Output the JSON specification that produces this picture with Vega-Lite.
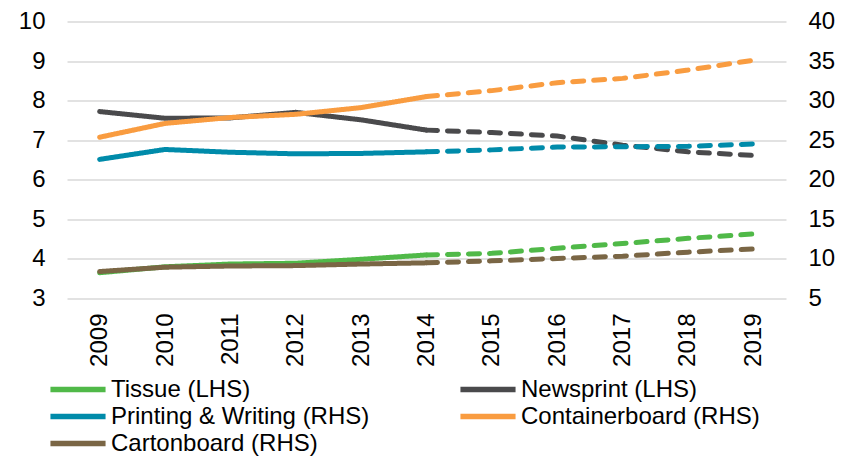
{
  "$schema": "https://vega.github.io/schema/vega-lite/v6.json",
  "width": 719,
  "height": 276.5,
  "autosize": {"type": "none"},
  "padding": {"left": 67, "top": 21.5, "right": 68, "bottom": 160},
  "config": {
    "view": {"stroke": null},
    "font": "Liberation Sans",
    "axis": {"labelFont": "Liberation Sans", "labelColor": "#000000"}
  },
  "data": {
    "values": [
      {"year": "2009", "series": "Tissue (LHS)", "side": "LHS", "phase": "actual", "value": 3.64},
      {"year": "2010", "series": "Tissue (LHS)", "side": "LHS", "phase": "actual", "value": 3.79},
      {"year": "2011", "series": "Tissue (LHS)", "side": "LHS", "phase": "actual", "value": 3.86},
      {"year": "2012", "series": "Tissue (LHS)", "side": "LHS", "phase": "actual", "value": 3.88},
      {"year": "2013", "series": "Tissue (LHS)", "side": "LHS", "phase": "actual", "value": 3.98},
      {"year": "2014", "series": "Tissue (LHS)", "side": "LHS", "phase": "actual", "value": 4.09},
      {"year": "2014", "series": "Tissue (LHS)", "side": "LHS", "phase": "forecast", "value": 4.09},
      {"year": "2015", "series": "Tissue (LHS)", "side": "LHS", "phase": "forecast", "value": 4.13},
      {"year": "2016", "series": "Tissue (LHS)", "side": "LHS", "phase": "forecast", "value": 4.26},
      {"year": "2017", "series": "Tissue (LHS)", "side": "LHS", "phase": "forecast", "value": 4.38},
      {"year": "2018", "series": "Tissue (LHS)", "side": "LHS", "phase": "forecast", "value": 4.51},
      {"year": "2019", "series": "Tissue (LHS)", "side": "LHS", "phase": "forecast", "value": 4.62},

      {"year": "2009", "series": "Newsprint (LHS)", "side": "LHS", "phase": "actual", "value": 7.72},
      {"year": "2010", "series": "Newsprint (LHS)", "side": "LHS", "phase": "actual", "value": 7.55},
      {"year": "2011", "series": "Newsprint (LHS)", "side": "LHS", "phase": "actual", "value": 7.56},
      {"year": "2012", "series": "Newsprint (LHS)", "side": "LHS", "phase": "actual", "value": 7.70},
      {"year": "2013", "series": "Newsprint (LHS)", "side": "LHS", "phase": "actual", "value": 7.51},
      {"year": "2014", "series": "Newsprint (LHS)", "side": "LHS", "phase": "actual", "value": 7.25},
      {"year": "2014", "series": "Newsprint (LHS)", "side": "LHS", "phase": "forecast", "value": 7.25},
      {"year": "2015", "series": "Newsprint (LHS)", "side": "LHS", "phase": "forecast", "value": 7.19},
      {"year": "2016", "series": "Newsprint (LHS)", "side": "LHS", "phase": "forecast", "value": 7.10},
      {"year": "2017", "series": "Newsprint (LHS)", "side": "LHS", "phase": "forecast", "value": 6.87},
      {"year": "2018", "series": "Newsprint (LHS)", "side": "LHS", "phase": "forecast", "value": 6.70},
      {"year": "2019", "series": "Newsprint (LHS)", "side": "LHS", "phase": "forecast", "value": 6.61},

      {"year": "2009", "series": "Printing & Writing (RHS)", "side": "RHS", "phase": "actual", "value": 22.55},
      {"year": "2010", "series": "Printing & Writing (RHS)", "side": "RHS", "phase": "actual", "value": 23.8},
      {"year": "2011", "series": "Printing & Writing (RHS)", "side": "RHS", "phase": "actual", "value": 23.45},
      {"year": "2012", "series": "Printing & Writing (RHS)", "side": "RHS", "phase": "actual", "value": 23.25},
      {"year": "2013", "series": "Printing & Writing (RHS)", "side": "RHS", "phase": "actual", "value": 23.3},
      {"year": "2014", "series": "Printing & Writing (RHS)", "side": "RHS", "phase": "actual", "value": 23.5},
      {"year": "2014", "series": "Printing & Writing (RHS)", "side": "RHS", "phase": "forecast", "value": 23.5},
      {"year": "2015", "series": "Printing & Writing (RHS)", "side": "RHS", "phase": "forecast", "value": 23.75},
      {"year": "2016", "series": "Printing & Writing (RHS)", "side": "RHS", "phase": "forecast", "value": 24.1},
      {"year": "2017", "series": "Printing & Writing (RHS)", "side": "RHS", "phase": "forecast", "value": 24.15},
      {"year": "2018", "series": "Printing & Writing (RHS)", "side": "RHS", "phase": "forecast", "value": 24.2},
      {"year": "2019", "series": "Printing & Writing (RHS)", "side": "RHS", "phase": "forecast", "value": 24.5},

      {"year": "2009", "series": "Containerboard (RHS)", "side": "RHS", "phase": "actual", "value": 25.35},
      {"year": "2010", "series": "Containerboard (RHS)", "side": "RHS", "phase": "actual", "value": 27.1},
      {"year": "2011", "series": "Containerboard (RHS)", "side": "RHS", "phase": "actual", "value": 27.85},
      {"year": "2012", "series": "Containerboard (RHS)", "side": "RHS", "phase": "actual", "value": 28.25},
      {"year": "2013", "series": "Containerboard (RHS)", "side": "RHS", "phase": "actual", "value": 29.1},
      {"year": "2014", "series": "Containerboard (RHS)", "side": "RHS", "phase": "actual", "value": 30.5},
      {"year": "2014", "series": "Containerboard (RHS)", "side": "RHS", "phase": "forecast", "value": 30.5},
      {"year": "2015", "series": "Containerboard (RHS)", "side": "RHS", "phase": "forecast", "value": 31.25},
      {"year": "2016", "series": "Containerboard (RHS)", "side": "RHS", "phase": "forecast", "value": 32.25},
      {"year": "2017", "series": "Containerboard (RHS)", "side": "RHS", "phase": "forecast", "value": 32.8},
      {"year": "2018", "series": "Containerboard (RHS)", "side": "RHS", "phase": "forecast", "value": 33.85},
      {"year": "2019", "series": "Containerboard (RHS)", "side": "RHS", "phase": "forecast", "value": 35.1},

      {"year": "2009", "series": "Cartonboard (RHS)", "side": "RHS", "phase": "actual", "value": 8.35},
      {"year": "2010", "series": "Cartonboard (RHS)", "side": "RHS", "phase": "actual", "value": 8.9},
      {"year": "2011", "series": "Cartonboard (RHS)", "side": "RHS", "phase": "actual", "value": 9.05},
      {"year": "2012", "series": "Cartonboard (RHS)", "side": "RHS", "phase": "actual", "value": 9.1},
      {"year": "2013", "series": "Cartonboard (RHS)", "side": "RHS", "phase": "actual", "value": 9.3},
      {"year": "2014", "series": "Cartonboard (RHS)", "side": "RHS", "phase": "actual", "value": 9.45},
      {"year": "2014", "series": "Cartonboard (RHS)", "side": "RHS", "phase": "forecast", "value": 9.45},
      {"year": "2015", "series": "Cartonboard (RHS)", "side": "RHS", "phase": "forecast", "value": 9.7},
      {"year": "2016", "series": "Cartonboard (RHS)", "side": "RHS", "phase": "forecast", "value": 10.0},
      {"year": "2017", "series": "Cartonboard (RHS)", "side": "RHS", "phase": "forecast", "value": 10.3},
      {"year": "2018", "series": "Cartonboard (RHS)", "side": "RHS", "phase": "forecast", "value": 10.8},
      {"year": "2019", "series": "Cartonboard (RHS)", "side": "RHS", "phase": "forecast", "value": 11.2}
    ]
  },
  "encoding": {
    "x": {
      "field": "year",
      "type": "ordinal",
      "scale": {"type": "point", "padding": 0.5},
      "axis": {
        "title": null,
        "labelAngle": -90,
        "labelFontSize": 24,
        "labelPadding": 15,
        "domain": false,
        "ticks": false,
        "grid": false
      }
    },
    "color": {
      "field": "series",
      "type": "nominal",
      "sort": ["Tissue (LHS)", "Newsprint (LHS)", "Printing & Writing (RHS)", "Containerboard (RHS)", "Cartonboard (RHS)"],
      "scale": {
        "domain": ["Tissue (LHS)", "Newsprint (LHS)", "Printing & Writing (RHS)", "Containerboard (RHS)", "Cartonboard (RHS)"],
        "range": ["#50B948", "#4A4A4C", "#008BAA", "#F99C40", "#7A6645"]
      },
      "legend": {
        "title": null,
        "orient": "none",
        "legendX": -4,
        "legendY": 353,
        "direction": "horizontal",
        "columns": 2,
        "columnPadding": 79,
        "rowPadding": 0,
        "symbolType": "M-2.25,0H2.25",
        "symbolSize": 600,
        "symbolStrokeWidth": 5.5,
        "symbolFillColor": "transparent",
        "labelFontSize": 24,
        "labelFont": "Liberation Sans",
        "labelColor": "#000000",
        "labelOffset": 18,
        "labelLimit": 400
      }
    },
    "strokeDash": {
      "field": "phase",
      "type": "nominal",
      "scale": {"domain": ["actual", "forecast"], "range": [[1, 0], [11, 10]]},
      "legend": null
    }
  },
  "layer": [
    {
      "transform": [{"filter": "datum.side === 'LHS'"}],
      "mark": {"type": "line", "strokeWidth": 5, "strokeCap": "round"},
      "encoding": {
        "y": {
          "field": "value",
          "type": "quantitative",
          "scale": {"domain": [3, 10], "nice": false, "zero": false},
          "axis": {
            "orient": "left",
            "title": null,
            "values": [3, 4, 5, 6, 7, 8, 9, 10],
            "labelFontSize": 24,
            "labelPadding": 22,
            "domain": false,
            "ticks": false,
            "grid": true,
            "gridColor": "#D9D9D9",
            "gridWidth": 1.5
          }
        }
      }
    },
    {
      "transform": [{"filter": "datum.side === 'RHS'"}],
      "mark": {"type": "line", "strokeWidth": 5, "strokeCap": "round"},
      "encoding": {
        "y": {
          "field": "value",
          "type": "quantitative",
          "scale": {"domain": [5, 40], "nice": false, "zero": false},
          "axis": {
            "orient": "right",
            "title": null,
            "values": [5, 10, 15, 20, 25, 30, 35, 40],
            "labelFontSize": 24,
            "labelPadding": 22,
            "domain": false,
            "ticks": false,
            "grid": false
          }
        }
      }
    }
  ],
  "resolve": {"scale": {"y": "independent"}}
}
